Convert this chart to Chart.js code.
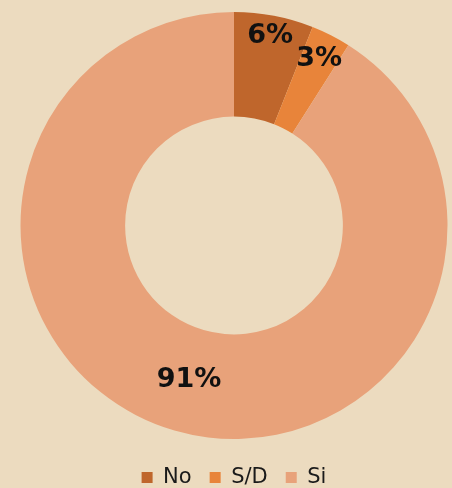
<!DOCTYPE html>
<html>
<head>
<meta charset="utf-8">
<script src="https://cdn.jsdelivr.net/npm/chart.js@4"></script>
<style>
  html, body { margin: 0; padding: 0; background: #ECDBBF; overflow: hidden; }
  #wrap { width: 452px; height: 488px; }
</style>
</head>
<body>
<div id="wrap"><canvas id="myChart" width="452" height="488"></canvas></div>
<script>
const labels = ['No', 'S/D', 'Si'];
const values = [6, 3, 91];
const colors = ['#BF662C', '#E8843A', '#E8A27A'];
// where each % label sits inside its slice (0 = inner edge, 1 = outer edge)
const labelPos = [0.8, 0.75, 0.5];

const pctLabels = {
  id: 'pctLabels',
  afterLayout(chart) {
    // push the legend a bit lower, closer to the bottom edge
    chart.legend.top += 10;
    chart.legend.bottom += 10;
  },
  afterDatasetsDraw(chart) {
    const ctx = chart.ctx;
    const meta = chart.getDatasetMeta(0);
    ctx.save();
    ctx.font = 'bold 27px "DejaVu Sans"';
    ctx.fillStyle = '#111';
    ctx.textAlign = 'center';
    ctx.textBaseline = 'middle';
    meta.data.forEach((arc, i) => {
      const p = arc.getProps(['x', 'y', 'startAngle', 'endAngle', 'innerRadius', 'outerRadius'], true);
      const a = (p.startAngle + p.endAngle) / 2;
      const r = p.innerRadius + (p.outerRadius - p.innerRadius) * labelPos[i];
      ctx.fillText(values[i] + '%', p.x + Math.cos(a) * r, p.y + Math.sin(a) * r);
    });
    ctx.restore();
  }
};

const data = {
  labels: labels,
  datasets: [{
    data: values,
    backgroundColor: colors,
    borderWidth: 0
  }]
};

const config = {
  type: 'doughnut',
  data: data,
  options: {
    responsive: false,
    animation: false,
    cutout: '51%',
    layout: {
      padding: { top: 12, left: 16, right: 0, bottom: 0 }
    },
    plugins: {
      tooltip: { enabled: false },
      legend: {
        position: 'bottom',
        labels: {
          boxWidth: 11,
          boxHeight: 11,
          padding: 18,
          color: '#1a1a1a',
          font: { family: '"DejaVu Sans"', size: 21 }
        }
      }
    }
  },
  plugins: [pctLabels]
};

const myChart = new Chart(document.getElementById('myChart'), config);
</script>
</body>
</html>
